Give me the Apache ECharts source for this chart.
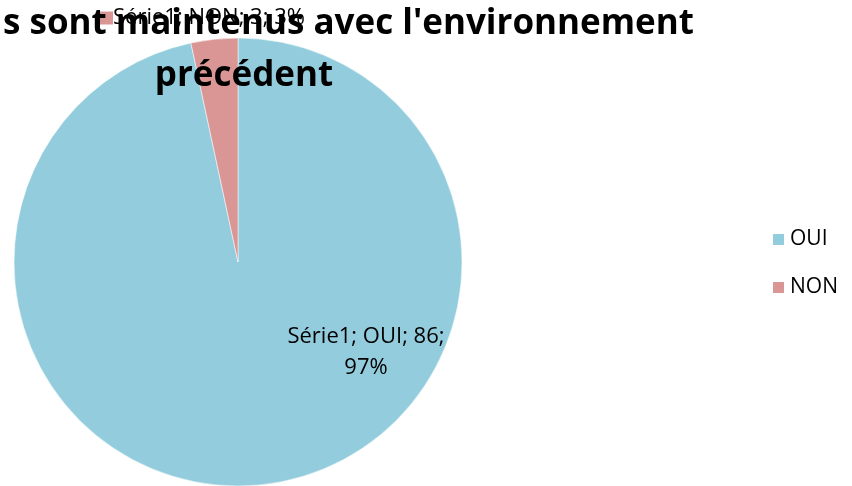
<!DOCTYPE html>
<html>
<head>
<meta charset="utf-8">
<script src="https://cdn.jsdelivr.net/npm/echarts@6/dist/echarts.min.js"></script>
<style>
  html, body { margin: 0; padding: 0; background: #fff; }
  #chart { width: 852px; height: 486px; }
</style>
</head>
<body>
<div id="chart"></div>
<script>
const categories = ['OUI', 'NON'];
const values = [86, 3];
const seriesName = 'Série1';
const colors = ['#93CDDD', '#D99694'];

const font = 'Open Sans, Noto Sans, sans-serif';
const chart = echarts.init(document.getElementById('chart'));

const total = values.reduce((a, b) => a + b, 0);
const pct = i => Math.round(values[i] / total * 100) + '%';

chart.setOption({
    animation: false,
    color: colors,
    title: [
        {
            text: "s sont maintenus avec l'environnement",
            left: -2,
            top: 2,
            textStyle: { fontFamily: font, fontWeight: 'bold', fontSize: 35, color: '#000' },
        },
        {
            text: 'précédent',
            left: 239,
            textAlign: 'center',
            top: 54,
            textStyle: { fontFamily: font, fontWeight: 'bold', fontSize: 35, color: '#000' },
        },
    ],
    legend: {
        orient: 'vertical',
        left: 766,
        top: 224,
        icon: 'rect',
        itemWidth: 13,
        itemHeight: 13,
        itemGap: 27,
        data: categories,
        textStyle: { fontFamily: font, fontSize: 21, color: '#000' },
    },
    series: [
        {
            name: seriesName,
            type: 'pie',
            center: [238, 262],
            radius: 224,
            startAngle: 90,
            clockwise: true,
            itemStyle: { borderColor: '#fff', borderWidth: 0.5 },
            labelLine: { show: false },
            label: {
                show: true,
                position: 'inside',
                fontFamily: font,
                fontSize: 22,
                color: '#000',
                lineHeight: 31,
            },
            labelLayout: p => (p.dataIndex === 0
                ? { x: 366, y: 352, align: 'center', verticalAlign: 'middle' }
                : { x: 100, y: 18, align: 'left', verticalAlign: 'middle' }),
            data: categories.map((c, i) => ({
                name: c,
                value: values[i],
                label: i === 0
                    ? { formatter: seriesName + '; ' + c + '; ' + values[i] + ';\n' + pct(i) }
                    : {
                        formatter: '{k|}{t|' + seriesName + '; ' + c + '; ' + values[i] + '; ' + pct(i) + '}',
                        rich: {
                            k: { backgroundColor: colors[i], width: 13, height: 13 },
                            t: { fontFamily: font, fontSize: 22, color: '#000' },
                        },
                    },
            })),
        },
    ],
});
</script>
</body>
</html>
